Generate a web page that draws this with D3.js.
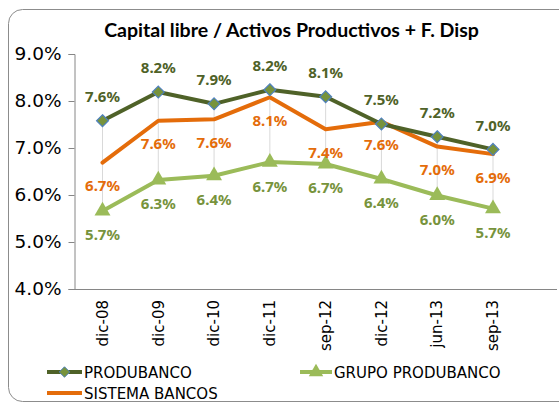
<!DOCTYPE html>
<html><head><meta charset="utf-8">
<script src="https://cdn.jsdelivr.net/npm/d3@7"></script>
<style>body{margin:0;background:#fff}svg{display:block}</style>
</head><body><svg id="c" width="559" height="403"></svg>
<script>
const categories = ["dic-08","dic-09","dic-10","dic-11","sep-12","dic-12","jun-13","sep-13"];
const produbanco = [7.58,8.19,7.94,8.24,8.09,7.51,7.24,6.97];
const sistemaBancos = [6.69,7.58,7.61,8.08,7.40,7.56,7.03,6.87];
const grupoProdubanco = [5.66,6.32,6.41,6.70,6.66,6.34,5.99,5.71];
const labelsProdubanco = ["7.6%","8.2%","7.9%","8.2%","8.1%","7.5%","7.2%","7.0%"];
const labelsSistema = ["6.7%","7.6%","7.6%","8.1%","7.4%","7.6%","7.0%","6.9%"];
const labelsGrupo = ["5.7%","6.3%","6.4%","6.7%","6.7%","6.4%","6.0%","5.7%"];
const yTicks = [4,5,6,7,8,9];
const title = "Capital libre / Activos Productivos + F. Disp";

const svg = d3.select("#c");
// border
svg.append("rect").attr("x",8.5).attr("y",9.5).attr("width",570).attr("height",392)
  .attr("rx",14).attr("fill","#fff").attr("stroke","#8c8c8c").attr("stroke-width",1);

const x = d3.scalePoint().domain(categories).range([102.5,493]);
const y = d3.scaleLinear().domain([4,9]).range([289,54]);

// title
const t = svg.append("text").attr("x",291.5).attr("y",37).attr("text-anchor","middle")
  .attr("font-family","Lato, 'Open Sans', sans-serif").attr("font-weight","bold")
  .attr("font-size",19).attr("fill","#000").text(title);
const tl = t.node().getComputedTextLength();
t.attr("font-size", 19*375/tl);

// y axis
const yAxis = svg.append("g").attr("transform","translate(74.5,0)")
  .call(d3.axisLeft(y).tickValues(yTicks).tickSize(6).tickFormat(d=>d.toFixed(1)+"%"));
yAxis.select(".domain").attr("stroke","#868686");
yAxis.selectAll(".tick line").attr("stroke","#868686");
yAxis.selectAll(".tick text").attr("font-family","'DejaVu Sans', sans-serif").attr("font-size",18.5)
  .attr("fill","#000").attr("x",-13);

// x axis line
svg.append("line").attr("x1",74).attr("x2",557).attr("y1",289.5).attr("y2",289.5)
  .attr("stroke","#868686").attr("stroke-width",1);
svg.append("g").selectAll("text").data(categories).join("text")
  .attr("transform",d=>`translate(${x(d)},300) rotate(-90)`)
  .attr("text-anchor","end").attr("dy","0.35em")
  .attr("font-family","'DejaVu Sans', sans-serif").attr("font-size",15).attr("fill","#000")
  .text(d=>d);

// high-low lines
svg.append("g").selectAll("line").data(categories).join("line")
  .attr("x1",d=>x(d)).attr("x2",d=>x(d))
  .attr("y1",(d,i)=>y(Math.max(produbanco[i],sistemaBancos[i],grupoProdubanco[i])))
  .attr("y2",(d,i)=>y(Math.min(produbanco[i],sistemaBancos[i],grupoProdubanco[i])))
  .attr("stroke","#d9d9d9").attr("stroke-width",1);

const line = d3.line().x((d,i)=>x(categories[i])).y(d=>y(d));
function drawLine(data,color){
  svg.append("path").datum(data).attr("d",line).attr("fill","none")
    .attr("stroke",color).attr("stroke-width",4).attr("stroke-linejoin","round").attr("stroke-linecap","round");
}
drawLine(grupoProdubanco,"#9bbb59");
drawLine(sistemaBancos,"#e46c0a");
drawLine(produbanco,"#4f6228");

const diamond = d3.symbol().type(d3.symbolDiamond2).size(90);
const tri = d3.symbol().type(d3.symbolTriangle).size(110);
svg.append("g").selectAll("path").data(grupoProdubanco).join("path")
  .attr("d",tri).attr("transform",(d,i)=>`translate(${x(categories[i])},${y(d)})`)
  .attr("fill","#9bbb59");
svg.append("g").selectAll("path").data(produbanco).join("path")
  .attr("d",diamond).attr("transform",(d,i)=>`translate(${x(categories[i])},${y(d)})`)
  .attr("fill","#77933c").attr("stroke","#4f81bd").attr("stroke-width",1.2);

function labels(data,txt,color,dy){
  svg.append("g").selectAll("text").data(data).join("text")
    .attr("x",(d,i)=>x(categories[i])).attr("y",d=>y(d)+dy).attr("dy","0.36em")
    .attr("text-anchor","middle").attr("font-family","'Noto Sans', sans-serif")
    .attr("font-weight","bold").attr("font-size",15).attr("fill",color)
    .text((d,i)=>txt[i]);
}
labels(produbanco,labelsProdubanco,"#4f6228",-24);
labels(sistemaBancos,labelsSistema,"#e46c0a",23);
labels(grupoProdubanco,labelsGrupo,"#77933c",24);

// legend
const lg = svg.append("g").attr("font-family","'DejaVu Sans', sans-serif").attr("font-size",15).attr("fill","#000");
function legItem(x1,x2,yy,color,label,marker){
  lg.append("line").attr("x1",x1).attr("x2",x2).attr("y1",yy).attr("y2",yy).attr("stroke",color).attr("stroke-width",4);
  if(marker==="d") lg.append("path").attr("d",d3.symbol().type(d3.symbolDiamond2).size(70)).attr("transform",`translate(${(x1+x2)/2},${yy})`).attr("fill","#77933c").attr("stroke","#4f81bd");
  if(marker==="t") lg.append("path").attr("d",d3.symbol().type(d3.symbolTriangle).size(90)).attr("transform",`translate(${(x1+x2)/2},${yy})`).attr("fill","#9bbb59");
  lg.append("text").attr("x",x2+2).attr("y",yy+6).text(label);
}
legItem(47,82,372,"#4f6228","PRODUBANCO","d");
legItem(300,332,372,"#9bbb59","GRUPO PRODUBANCO","t");
legItem(47,82,393,"#e46c0a","SISTEMA BANCOS",null);
</script></body></html>
